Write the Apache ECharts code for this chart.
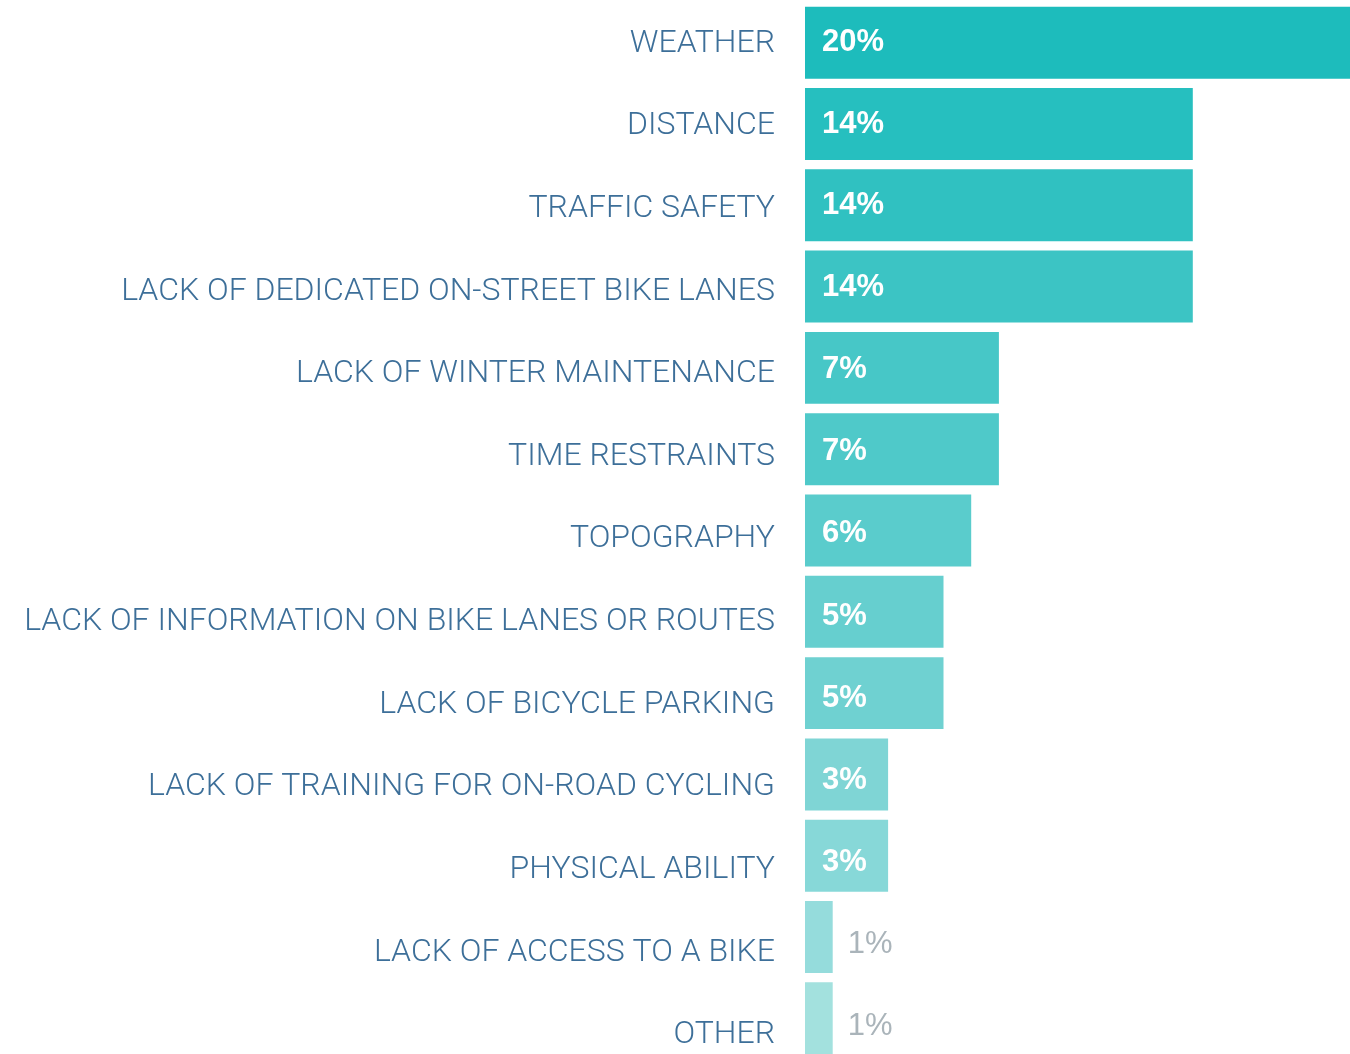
<!DOCTYPE html>
<html>
<head>
<meta charset="utf-8">
<script src="https://cdn.jsdelivr.net/npm/echarts@6/dist/echarts.min.js"></script>
<style>
  html, body { margin: 0; padding: 0; background: #fff; overflow: hidden; }
  /* slightly larger than the window: the top bar and last row run off the edge */
  #chart { width: 1359px; height: 1060px; }
</style>
</head>
<body>
<div id="chart"></div>
<script>
// categories, top to bottom
var categories = [
    'WEATHER',
    'DISTANCE',
    'TRAFFIC SAFETY',
    'LACK OF DEDICATED ON-STREET BIKE LANES',
    'LACK OF WINTER MAINTENANCE',
    'TIME RESTRAINTS',
    'TOPOGRAPHY',
    'LACK OF INFORMATION ON BIKE LANES OR ROUTES',
    'LACK OF BICYCLE PARKING',
    'LACK OF TRAINING FOR ON-ROAD CYCLING',
    'PHYSICAL ABILITY',
    'LACK OF ACCESS TO A BIKE',
    'OTHER'
];
var values = [20, 14, 14, 14, 7, 7, 6, 5, 5, 3, 3, 1, 1];
var barColors = [
    '#1dbcbc', '#26bfbf', '#30c1c1', '#3cc4c4', '#47c7c7', '#4fc9c9', '#5acccc',
    '#66cfcf', '#6fd1d1', '#7fd5d5', '#87d8d8', '#95dcdc', '#a3e1de'
];

var chart = echarts.init(document.getElementById('chart'));

// in the original the text creeps a little lower than the bars row by row
function catShift(i) { return 1 + 1.33 * i; }
function valShift(i) { return Math.max(0, 0.85 * (i - 2)); }

// one rich style per row: a taller line box with the text sitting at its bottom
var catRich = {};
for (var k = 0; k < categories.length; k++) {
    catRich['r' + k] = {
        color: '#3d6f99',
        fontFamily: 'Roboto',
        fontWeight: 300,
        fontSize: 32,
        lineHeight: 32 + 2 * catShift(k),
        verticalAlign: 'bottom'
    };
}

var data = values.map(function (v, i) {
    var small = v < 2;
    return {
        value: v,
        itemStyle: { color: barColors[i] },
        label: small ? {
            position: 'right',
            distance: 15,
            offset: [0, valShift(i)],
            color: '#aab4ba',
            fontWeight: 'normal'
        } : {
            position: 'insideLeft',
            distance: 17,
            offset: [0, valShift(i)],
            color: '#ffffff',
            fontWeight: 'bold'
        }
    };
});

var option = {
    animation: false,
    grid: { left: 805, right: 0, top: 2, bottom: 1, containLabel: false },
    xAxis: {
        type: 'value',
        min: 0,
        max: 20,
        show: false
    },
    yAxis: {
        type: 'category',
        data: categories,
        inverse: true,
        axisLine: { show: false },
        axisTick: { show: false },
        splitLine: { show: false },
        axisLabel: {
            margin: 30,
            color: '#3d6f99',
            fontFamily: 'Roboto',
            fontWeight: 300,
            fontSize: 32,
            formatter: function (value, index) {
                return '{r' + index + '|' + value + '}';
            },
            rich: catRich
        }
    },
    series: [{
        type: 'bar',
        data: data,
        barCategoryGap: '11.5%',
        label: {
            show: true,
            fontFamily: 'Liberation Sans',
            fontSize: 31,
            formatter: '{c}%'
        }
    }]
};

chart.setOption(option);
window.onresize = chart.resize;
</script>
</body>
</html>
